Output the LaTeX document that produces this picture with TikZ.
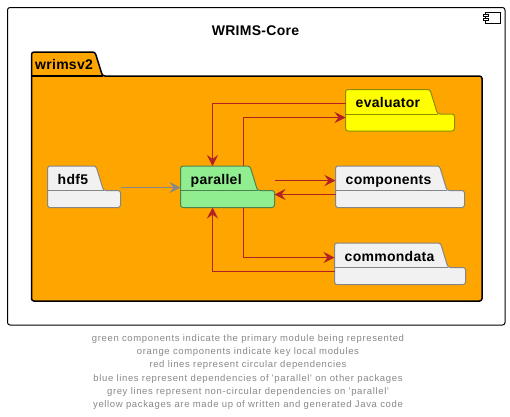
\documentclass[tikz,border=0pt]{standalone}
\usepackage{fontspec}
\setmainfont{Liberation Sans}
\usetikzlibrary{arrows.meta,positioning,calc}
\definecolor{WrimsOrange}{HTML}{FFA500}
\definecolor{WrimsGreen}{HTML}{90EE90}
\definecolor{WrimsGrey}{HTML}{F1F1F1}
\definecolor{WrimsYellow}{HTML}{FFFF00}
\definecolor{WrimsRed}{HTML}{B22222}
\definecolor{WrimsLine}{HTML}{888888}
\newfontfamily\notefont[LetterSpace=6.8]{Liberation Sans}
\newfontfamily\labelfont[LetterSpace=2]{Liberation Sans}
\tikzset{
  x=1pt,y=-1pt,
  boxanchor/.style={inner sep=0pt,outer sep=0pt,anchor=north west},
  pkgfill/.style={fill=#1,draw=#1!55!black,line width=1pt,rounded corners=2.5pt},
  pkglabel/.style={anchor=base west,inner sep=0pt,font=\labelfont\fontsize{14}{16}\selectfont\bfseries},
  redline/.style={draw=WrimsRed,line width=1pt,-{Stealth[length=11pt,width=11pt,inset=4pt]}},
  greyline/.style={draw=WrimsLine,line width=1pt,-{Stealth[length=11pt,width=11pt,inset=4pt]}},
  iconbox/.style={draw=black,fill=white,line width=.8pt,inner sep=0pt,outer sep=0pt}
}
\newcommand{\pkgnode}[7]{%
  \node[boxanchor,minimum width=#6pt,minimum height=41.5pt] (#1) at (#3,#4) {};
  \draw[pkgfill=#2] (#3,#4+10) -- (#3,#4) -- (#3+#5,#4) -- (#3+#5+7.5,#4+24.5)
    -- (#3+#6,#4+24.5) -- (#3+#6,#4+41.5) -- (#3,#4+41.5) -- cycle;
  \draw[draw=#2!55!black,line width=1pt] (#3,#4+24.5) -- (#3+#5+7.5,#4+24.5);
  \node[pkglabel] (#1label) at (#3+10,#4+18) {#7};
}
\begin{document}
\begin{tikzpicture}
  \useasboundingbox (0,0) rectangle (510,416);
  \fill[white] (0,0) rectangle (510,416);
  \node[boxanchor,draw=black,line width=1pt,rounded corners=2.5pt,minimum width=497.5pt,minimum height=317.5pt] (wrimscore) at (7.5,7.5) {};
  \node[anchor=base,inner sep=0pt,font=\labelfont\fontsize{14}{16}\selectfont\bfseries] (wrimstitle) at (255.5,35) {WRIMS-Core};
  \node[boxanchor,iconbox,minimum width=15pt,minimum height=10.5pt] (iconbody) at (485.5,12.5) {};
  \node[iconbox,minimum width=5pt,minimum height=2.5pt] (icontop) at (485.5,15.5) {};
  \node[iconbox,minimum width=5pt,minimum height=2.5pt] (iconbottom) at (485.5,19.5) {};

  \draw[fill=WrimsOrange,draw=black,line width=1.5pt,rounded corners=2.5pt]
    (31.5,65) -- (31.5,52) -- (95,52) -- (102.5,76) -- (482,76) -- (482,301) -- (31.5,301) -- cycle;
  \draw[black,line width=1.5pt] (31.5,76) -- (102.5,76);
  \node[pkglabel] (wrimsv2) at (35,69) {wrimsv2};

  \pkgnode{hdf5}{WrimsGrey}{47.5}{166}{48.5}{73}{hdf5}
  \pkgnode{parallel}{WrimsGreen}{180.5}{166}{69.5}{94}{parallel}
  \pkgnode{evaluator}{WrimsYellow}{345.5}{89.5}{84.5}{109}{evaluator}
  \pkgnode{components}{WrimsGrey}{335.5}{166}{104}{129}{components}
  \pkgnode{commondata}{WrimsGrey}{334.5}{243}{106}{131}{commondata}

  \draw[greyline] ($(hdf5.north east)+(0,21.5)$) -- ($(parallel.north west)+(0,21.5)$);
  \draw[redline] ($(evaluator.north west)+(0,14)$) -| ($(parallel.north west)+(32,0)$);
  \draw[redline] ($(parallel.north west)+(63,0)$) |- ($(evaluator.north west)+(0,28)$);
  \draw[redline] ($(parallel.north east)+(0,14.5)$) -- ($(components.north west)+(0,14.5)$);
  \draw[redline] ($(components.north west)+(0,28.5)$) -- ($(parallel.north east)+(0,28.5)$);
  \draw[redline] ($(parallel.south west)+(63,0)$) |- ($(commondata.north west)+(0,14.5)$);
  \draw[redline] ($(commondata.north west)+(0,28.5)$) -| ($(parallel.south west)+(32,0)$);

  \node[anchor=north,inner sep=0pt,align=center,text=WrimsLine,font=\notefont\fontsize{9.5}{13.2}\selectfont] (legend) at (248,334.5)
    {green components indicate the primary module being represented\\
     orange components indicate key local modules\\
     red lines represent circular dependencies\\
     blue lines represent dependencies of 'parallel' on other packages\\
     grey lines represent non-circular dependencies on 'parallel'\\
     yellow packages are made up of written and generated Java code};
\end{tikzpicture}
\end{document}
